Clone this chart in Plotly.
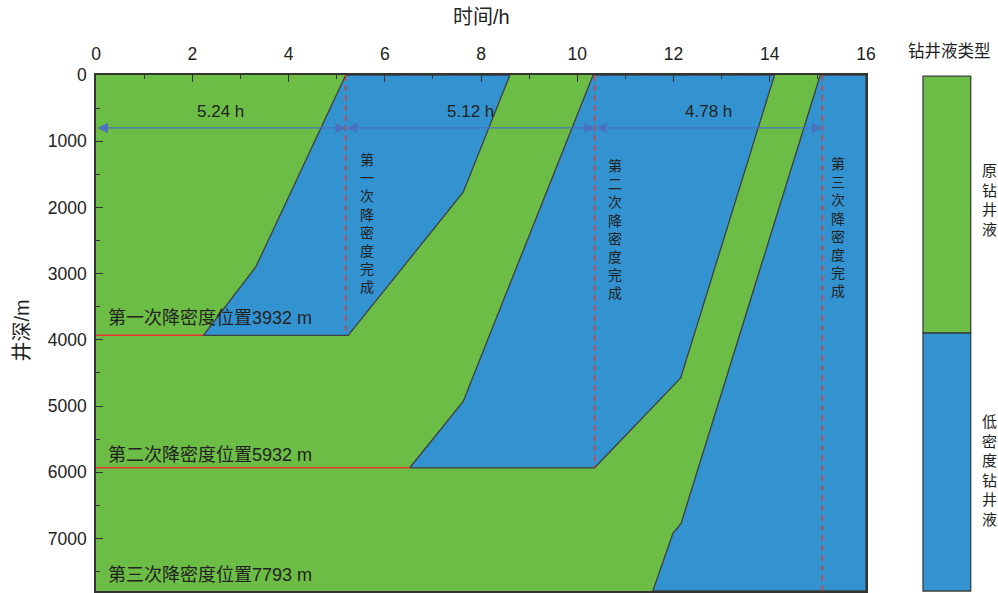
import plotly.graph_objects as go

# ---------------- data ----------------
x_ticks = [0, 2, 4, 6, 8, 10, 12, 14, 16]
y_ticks = [0, 1000, 2000, 3000, 4000, 5000, 6000, 7000]
depth_max = 7793

# low-density fluid slugs (time h, depth m) polygon vertices
slug1_t = [5.19, 3.32, 2.23, 5.24, 7.63, 8.60]
slug1_d = [0, 2900, 3932, 3932, 1770, 0]

slug2_t = [10.33, 7.63, 6.52, 10.36, 12.15, 14.10]
slug2_d = [0, 4930, 5932, 5932, 4575, 0]

slug3_t = [15.05, 12.16, 12.06, 11.99, 11.57, 16, 16]
slug3_d = [0, 6767, 6860, 6918, 7793, 7793, 0]

# density reduction positions
reduce_depths = [3932, 5932, 7793]
reduce_labels = ["第一次降密度位置3932 m", "第二次降密度位置5932 m", "第三次降密度位置7793 m"]
reduce_line_end_t = [2.23, 6.52]

# completion times
done_t = [5.19, 10.36, 15.09]
done_depth_end = [3932, 5932, 7793]
done_labels = ["第一次降密度完成", "第二次降密度完成", "第三次降密度完成"]
interval_labels = ["5.24 h", "5.12 h", "4.78 h"]
arrow_depth = 800

GREEN = "#6cbd45"
BLUE = "#3393d1"
EDGE = "#3f3f3f"
RED = "#e8342c"
ARROW = "#4a72c0"
FONT = "Liberation Sans, Arial, Noto Sans CJK SC, sans-serif"
TXT = "#222222"

fig = go.Figure()

for ts, ds in [(slug1_t, slug1_d), (slug2_t, slug2_d), (slug3_t, slug3_d)]:
    fig.add_trace(go.Scatter(x=ts + [ts[0]], y=ds + [ds[0]], mode="lines", fill="toself",
                             fillcolor=BLUE, line=dict(color=EDGE, width=1.3),
                             hoverinfo="skip", showlegend=False))

# red horizontal lines
for d, te in zip(reduce_depths[:2], reduce_line_end_t):
    fig.add_trace(go.Scatter(x=[0, te], y=[d, d], mode="lines",
                             line=dict(color=RED, width=1.5), showlegend=False, hoverinfo="skip"))

# dashed completion lines
for t, de in zip(done_t, done_depth_end):
    fig.add_trace(go.Scatter(x=[t, t], y=[0, de], mode="lines",
                             line=dict(color=RED, width=1.3, dash="6px,4px"),
                             showlegend=False, hoverinfo="skip"))

annotations = []
# interval arrows
starts = [0] + done_t[:-1]
for s, e, lab in zip(starts, done_t, interval_labels):
    annotations.append(dict(x=e, y=arrow_depth, ax=s, ay=arrow_depth, xref="x", yref="y",
                            axref="x", ayref="y", text="", showarrow=True,
                            arrowhead=2, startarrowhead=2, arrowside="end+start",
                            arrowsize=1.6, startarrowsize=1.6, arrowwidth=1.3,
                            arrowcolor=ARROW))
    annotations.append(dict(x=(s + e) / 2, y=arrow_depth - 250, xref="x", yref="y",
                            text=lab, showarrow=False, xanchor="center", yanchor="middle",
                            font=dict(size=17, color=TXT, family=FONT)))

# vertical completion labels
done_label_pos = [(5.63, 2250), (10.78, 2330), (15.41, 2300)]
for (t, d), lab in zip(done_label_pos, done_labels):
    annotations.append(dict(x=t, y=d, xref="x", yref="y", text="<br>".join(lab),
                            showarrow=False, xanchor="center", yanchor="middle",
                            font=dict(size=14, color=TXT, family=FONT)))

# position labels
pos_label_depth = [3670, 5736, 7550]
for d, lab in zip(pos_label_depth, reduce_labels):
    annotations.append(dict(x=0.2, y=d, xref="x", yref="y", text=lab, xanchor="left",
                            yanchor="middle", showarrow=False,
                            font=dict(size=18, color=TXT, family=FONT)))

# legend bar texts
annotations.append(dict(x=1.108, y=1.047, xref="paper", yref="paper", text="钻井液类型",
                        showarrow=False, xanchor="center", yanchor="middle",
                        font=dict(size=16.5, color=TXT, family=FONT)))
annotations.append(dict(x=1.16, y=0.758, xref="paper", yref="paper", text="<br>".join("原钻井液"),
                        showarrow=False, xanchor="center", yanchor="middle",
                        font=dict(size=15, color=TXT, family=FONT)))
annotations.append(dict(x=1.16, y=0.233, xref="paper", yref="paper", text="<br>".join("低密度钻井液"),
                        showarrow=False, xanchor="center", yanchor="middle",
                        font=dict(size=15, color=TXT, family=FONT)))
# axis titles
annotations.append(dict(x=0.5, y=1.112, xref="paper", yref="paper", text="时间/h",
                        showarrow=False, xanchor="center", yanchor="middle",
                        font=dict(size=20, color=TXT, family=FONT)))
annotations.append(dict(x=-0.096, y=0.505, xref="paper", yref="paper", text="井深/m",
                        showarrow=False, textangle=-90, xanchor="center", yanchor="middle",
                        font=dict(size=20, color=TXT, family=FONT)))

shapes = [
    dict(type="rect", xref="paper", yref="paper", x0=1.074, x1=1.136, y0=0.5, y1=0.998,
         fillcolor=GREEN, line=dict(color=EDGE, width=1.3)),
    dict(type="rect", xref="paper", yref="paper", x0=1.074, x1=1.136, y0=0.0, y1=0.5,
         fillcolor=BLUE, line=dict(color=EDGE, width=1.3)),
]

fig.update_layout(
    width=998, height=593,
    margin=dict(l=96, r=132, t=75, b=2, autoexpand=False),
    paper_bgcolor="white", plot_bgcolor=GREEN,
    font=dict(family=FONT, color=TXT),
    annotations=annotations, shapes=shapes, showlegend=False,
)
fig.update_xaxes(side="top", range=[0, 16], tickvals=x_ticks, ticks="inside", ticklen=7,
                 tickwidth=1.2, tickcolor="#333", showline=True, linecolor="#333", linewidth=1.5,
                 mirror=True, showgrid=False, zeroline=False, automargin=False,
                 tickfont=dict(size=17.5, color=TXT, family=FONT), ticklabelstandoff=6,
                 minor=dict(dtick=1, ticks="inside", ticklen=4, tickcolor="#333", tickwidth=1.2))
fig.update_yaxes(range=[depth_max, 0], tickvals=y_ticks, ticks="inside", ticklen=7,
                 tickwidth=1.2, tickcolor="#333", showline=True, linecolor="#333", linewidth=1.5,
                 mirror=True, showgrid=False, zeroline=False, automargin=False,
                 tickfont=dict(size=17.5, color=TXT, family=FONT), ticklabelstandoff=4,
                 minor=dict(dtick=500, ticks="inside", ticklen=4, tickcolor="#333", tickwidth=1.2))

fig.write_html("out.html", config={"displayModeBar": False},
               post_script="document.body.style.margin='0';document.body.style.overflow='hidden';")
